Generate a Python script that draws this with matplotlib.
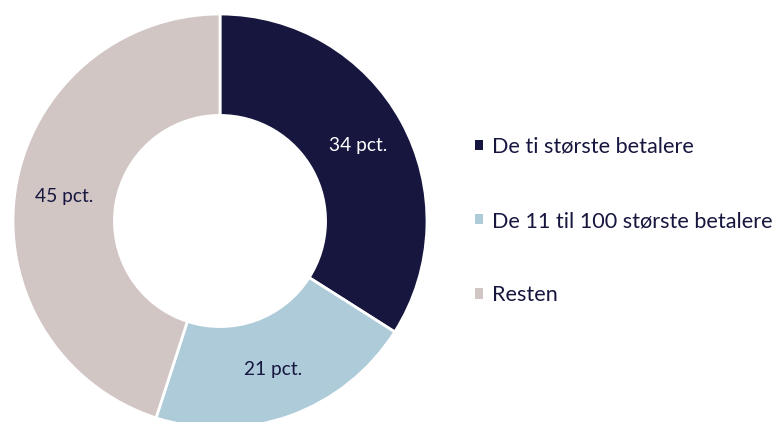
import matplotlib
matplotlib.use("Agg")
import matplotlib.pyplot as plt

categories = ["De ti største betalere", "De 11 til 100 største betalere", "Resten"]
values = [34, 21, 45]
value_labels = ["34 pct.", "21 pct.", "45 pct."]
colors = ["#16163F", "#AECBD9", "#D2C6C5"]
label_colors = ["white", "#16163F", "#16163F"]

plt.rcParams['font.family'] = ['Lato', 'DejaVu Sans']

fig = plt.figure(figsize=(7.77, 4.22), dpi=100)
ax = fig.add_axes([13/777, -6/422, 414/777, 414/422])
wedges, texts = ax.pie(values, startangle=90, counterclock=False, colors=colors,
                       radius=1.0, labels=value_labels, labeldistance=0.76,
                       wedgeprops=dict(width=0.49, edgecolor="white", linewidth=2),
                       textprops=dict(fontsize=13.8, ha="center", va="center"))
for t, c in zip(texts, label_colors):
    t.set_color(c)
ax.set_xlim(-1, 1)
ax.set_ylim(-1, 1)
ax.set_aspect("equal")
ax.axis("off")

leg = fig.legend(wedges, categories, loc="center left", bbox_to_anchor=(475/777, (422-221)/422),
                 frameon=False, fontsize=15.6, labelcolor="#16163F", borderpad=0,
                 borderaxespad=0,
                 handlelength=0.37, handleheight=0.37, handletextpad=0.42,
                 labelspacing=2.5)
for h in leg.legend_handles:
    h.set_edgecolor("none")

fig.savefig("out.png", dpi=100)
